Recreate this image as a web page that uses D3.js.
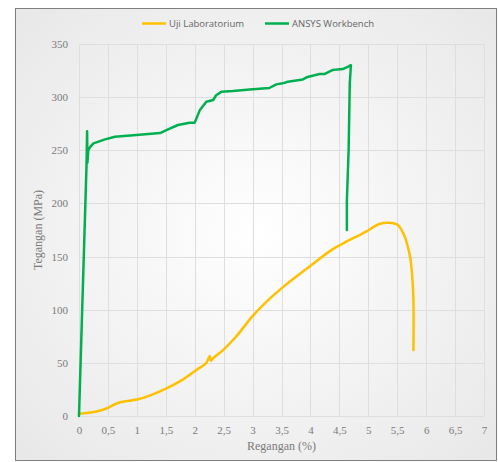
<!DOCTYPE html>
<html><head><meta charset="utf-8">
<script src="https://cdn.jsdelivr.net/npm/d3@7"></script>
<style>html,body{margin:0;padding:0;background:#fff;}svg{display:block;}</style>
</head><body>
<script>
const xTicks = [0,0.5,1,1.5,2,2.5,3,3.5,4,4.5,5,5.5,6,6.5,7];
const yTicks = [0,50,100,150,200,250,300,350];
const seriesNames = ["Uji Laboratorium","ANSYS Workbench"];
const seriesColors = ["#FFC000","#00B050"];
const labStrain = [0,0.28,0.48,0.68,1.02,1.22,1.51,1.80,2.03,2.2,2.26,2.28,2.31,2.49,2.72,3.0,3.25,3.52,3.98,4.38,4.62,4.84,4.96,5.19,5.36,5.51,5.62,5.68,5.73,5.76,5.78,5.78];
const labStress = [2,4,7.2,12.5,15.7,19.1,26,34.5,43.3,50,56.5,52,54,62,75,94,108,121,140.5,156.8,164,170,173.4,180.6,181.8,179.7,170,160,147,131,109,62];
const ansysStrain = [0,0.13,0.14,0.145,0.16,0.19,0.25,0.45,0.62,0.99,1.40,1.51,1.71,1.91,2.0,2.09,2.2,2.32,2.37,2.46,2.66,2.95,3.29,3.41,3.52,3.61,3.87,3.95,4.16,4.24,4.38,4.56,4.67,4.70,4.68,4.66,4.63,4.63];
const ansysStress = [0,236,268,238,250,253,256.5,260.3,262.8,264.3,266.2,269,273.8,276,276,288,295.7,297.3,301.8,305,305.7,307.3,308.6,312,313,314.5,316.7,319,321.7,321.7,325.5,326.4,329.3,330,313,250,203,175];

const W=498,H=462;
const svg=d3.select("body").append("svg").attr("width",W).attr("height",H);
const defs=svg.append("defs");
const grad=defs.append("radialGradient").attr("id","bg").attr("cx","50%").attr("cy","50%").attr("r","75%");
grad.append("stop").attr("offset","0%").attr("stop-color","#ffffff");
grad.append("stop").attr("offset","100%").attr("stop-color","#e6e6e6");
svg.append("rect").attr("x",15.5).attr("y",8.5).attr("width",481).attr("height",452)
  .attr("fill","url(#bg)").attr("stroke","#7f7f7f").attr("stroke-width",1);

const x=d3.scaleLinear().domain([0,7]).range([79,484]);
const y=d3.scaleLinear().domain([0,350]).range([416,44]);

const g=svg.append("g");
g.selectAll("line.vg").data(xTicks).join("line").attr("class","vg")
  .attr("x1",d=>Math.round(x(d))+0.5).attr("x2",d=>Math.round(x(d))+0.5)
  .attr("y1",y(350)).attr("y2",y(0)).attr("stroke","#dedede").attr("stroke-width",1);
g.selectAll("line.hg").data(yTicks).join("line").attr("class","hg")
  .attr("y1",d=>Math.round(y(d))+0.5).attr("y2",d=>Math.round(y(d))+0.5)
  .attr("x1",x(0)).attr("x2",x(7)).attr("stroke","#dedede").attr("stroke-width",1);

const fmt=d=>String(d).replace(".",",");
const xAxis=d3.axisBottom(x).tickValues(xTicks).tickFormat(fmt).tickSize(0).tickPadding(10);
const yAxis=d3.axisLeft(y).tickValues(yTicks).tickSize(0).tickPadding(11);
const ax=svg.append("g").attr("transform",`translate(0,${y(0)})`).call(xAxis);
const ay=svg.append("g").attr("transform",`translate(${x(0)},0)`).call(yAxis);
[ax,ay].forEach(a=>{a.select(".domain").remove();
  a.attr("font-family","'Liberation Serif','DejaVu Serif',serif").attr("font-size",11);
  a.selectAll("text").attr("fill","#7a7a7a");});

svg.append("text").attr("x",(x(0)+x(7))/2).attr("y",450).attr("text-anchor","middle")
  .attr("fill","#7a7a7a").attr("font-family","'Liberation Serif',serif").attr("font-size",12).text("Regangan (%)");
svg.append("text").attr("transform","translate(42,230) rotate(-90)").attr("text-anchor","middle")
  .attr("fill","#7a7a7a").attr("font-family","'Liberation Serif',serif").attr("font-size",12).text("Tegangan (MPa)");

const line=d3.line().x(d=>x(d[0])).y(d=>y(d[1]));
const smooth=d3.line().x(d=>x(d[0])).y(d=>y(d[1])).curve(d3.curveCatmullRom.alpha(0.5));
const lab=labStrain.map((v,i)=>[v,labStress[i]]);
const ans=ansysStrain.map((v,i)=>[v,ansysStress[i]]);
svg.append("path").datum(lab).attr("d",smooth).attr("fill","none").attr("stroke",seriesColors[0])
  .attr("stroke-width",2.5).attr("stroke-linejoin","round").attr("stroke-linecap","round");
svg.append("path").datum(ans).attr("d",line).attr("fill","none").attr("stroke",seriesColors[1])
  .attr("stroke-width",2.5).attr("stroke-linejoin","round").attr("stroke-linecap","round");

const legX=[142,265];
seriesNames.forEach((n,i)=>{
  svg.append("line").attr("x1",legX[i]).attr("x2",legX[i]+24).attr("y1",23.5).attr("y2",23.5)
    .attr("stroke",seriesColors[i]).attr("stroke-width",2.5);
  svg.append("text").attr("x",legX[i]+27).attr("y",27).attr("fill","#666")
    .attr("font-family","'Open Sans','Noto Sans',sans-serif").attr("font-size",9.5).text(n);
});
</script>
</body></html>
